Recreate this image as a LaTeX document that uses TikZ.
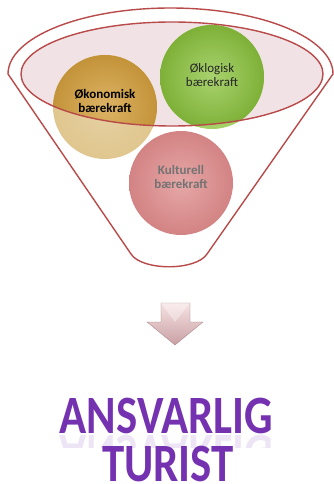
\documentclass[tikz,border=0pt]{standalone}
\usepackage{fontspec}
\setmainfont{Carlito}
\usetikzlibrary{shadings,fadings}
\definecolor{fred}{HTML}{B94A4A}
\definecolor{pinkfill}{HTML}{F1E3E5}
\definecolor{goldin}{HTML}{D4A03E}
\definecolor{goldout}{HTML}{E0C68E}
\definecolor{greenin}{HTML}{8CC43E}
\definecolor{greenout}{HTML}{A3D166}
\definecolor{redball}{HTML}{DE8A8A}
\definecolor{purp}{HTML}{7432B0}
\definecolor{arrowtop}{HTML}{F6E2E2}
\definecolor{arrowbot}{HTML}{C9A0A4}
\begin{document}
\begin{tikzpicture}[x=1pt,y=-1pt]
\useasboundingbox (0,0) rectangle (334,484);
\tikzset{
  ball/.style={circle, minimum size=104pt, inner sep=0pt, draw=none},
  balltext/.style={align=center, font=\fontsize{13}{14.5}\selectfont, inner sep=0pt},
  funnelline/.style={draw=fred, line width=1.4pt},
  bigword/.style={font=\fontsize{54}{54}\selectfont\bfseries, text=purp, inner sep=0pt, anchor=base}
}
% funnel outline
\draw[funnelline, fill=white] (8,74) arc[start angle=180, end angle=360, x radius=162.5, y radius=66]
  -- (207,254) .. controls (196,271) and (142,271) .. (131,254) -- cycle;
% opening
\fill[pinkfill] (172,74) ellipse [x radius=151, y radius=52];
% balls (outer, lighter)
\node[ball, shading=radial, inner color=goldout!80!white, outer color=goldout] (eko) at (105,107) {};
\node[ball, shading=radial, inner color=greenout!85!white, outer color=greenout] (okl) at (212,77) {};
\node[ball, shading=radial, inner color=redball!75!white, outer color=redball!95!black] (kul) at (181,183) {};
% parts inside the opening
\begin{scope}
  \clip (172,74) ellipse [x radius=151, y radius=52];
  \shade[inner color=goldin!80!white, outer color=goldin!92!black] (eko.center) circle (52);
  \shade[inner color=greenin!75!white, outer color=greenin!90!black] (okl.center) circle (52);
\end{scope}
\draw[funnelline] (172,74) ellipse [x radius=151, y radius=52];
% texts
\node[balltext, text=black, font=\fontsize{13}{14.5}\selectfont\bfseries] (ekot) at (105,101) {Økonomisk\\bærekraft};
\node[balltext, text=black!85] (oklt) at (212,75) {Øklogisk\\bærekraft};
\node[balltext, text=black!55, font=\fontsize{13}{14.5}\selectfont\bfseries] (kult) at (181,177) {Kulturell\\bærekraft};
% arrow
\shade[top color=arrowtop, bottom color=arrowbot, draw=arrowbot!80!black, line width=0.3pt]
  (161,303) -- (190,303) -- (190,322) -- (203,322) -- (175,345) -- (147,322) -- (161,322) -- cycle;
\fill[white, opacity=0.35] (161,303) -- (175,322) -- (190,303) -- cycle;
% words
\node[bigword] (ans) at (166.5,433) {\scalebox{0.83}[1]{ANSVARLIG}};
\begin{scope}
  \clip (40,434) rectangle (300,447);
  \node[bigword, text=purp!25, yscale=-1, opacity=0.5] (ansr) at (166.5,435) {\scalebox{0.83}[1]{ANSVARLIG}};
\end{scope}
\node[bigword] (tur) at (168,481) {\scalebox{0.83}[1]{TURIST}};
\end{tikzpicture}
\end{document}
